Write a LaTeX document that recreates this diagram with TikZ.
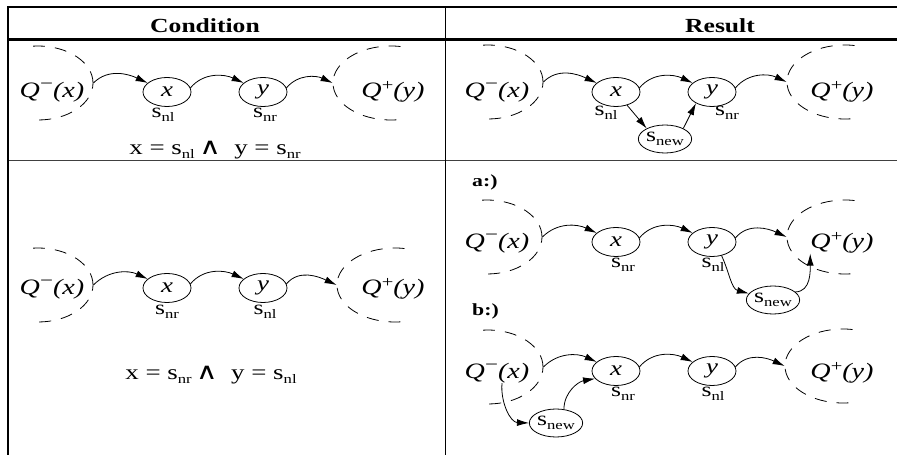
\documentclass[tikz,border=0pt]{standalone}
\usepackage{fontspec}
\setmainfont{Liberation Serif}
\newfontfamily\symf{DejaVu Sans}
\usepackage{graphicx}
\usetikzlibrary{shapes.geometric,arrows.meta}
\newcommand\sx[1]{\scalebox{1.28}[1]{#1}}
\newcommand\Qmin[1]{\sx{\fontsize{22}{24}\selectfont\textit{Q}\raisebox{8pt}{\fontsize{18}{18}\selectfont −}\textit{(#1)}}}
\newcommand\Qplus[1]{\sx{\fontsize{22}{24}\selectfont\textit{Q}\raisebox{7pt}{\fontsize{16}{16}\selectfont +}\textit{(#1)}}}
\newcommand\Ssub[1]{\sx{\fontsize{20}{22}\selectfont s\raisebox{-4pt}{\fontsize{13}{13}\selectfont #1}}}
\newcommand\Var[1]{\sx{\fontsize{21}{24}\selectfont\textit{#1}}}
\newcommand\Formula[2]{\sx{\fontsize{21}{22}\selectfont x = s\raisebox{-4pt}{\fontsize{13}{13}\selectfont #1}\,{\symf\fontsize{23}{23}\selectfont ∧}\ \ y = s\raisebox{-4pt}{\fontsize{13}{13}\selectfont #2}}}
\begin{document}
\begin{tikzpicture}[x=1pt,y=1pt,
  gnode/.style={draw, ellipse, line width=0.8pt, minimum width=48pt, minimum height=29pt, inner sep=0pt},
  newnode/.style={draw, ellipse, line width=0.8pt, minimum width=51pt, minimum height=28pt, inner sep=0pt},
  qreg/.style={draw, ellipse, line width=0.8pt, dash pattern=on 12pt off 10pt, minimum width=110pt, minimum height=74pt, inner sep=0pt},
  qregp/.style={qreg, minimum width=116pt},
  txt/.style={inner sep=0pt},
  arr/.style={line width=0.8pt, -{Latex[length=12pt,width=7pt]}},
  hdr/.style={inner sep=0pt, font=\fontsize{20}{24}\selectfont\bfseries},
  lbl/.style={inner sep=0pt, anchor=west, font=\fontsize{17}{20}\selectfont\bfseries}]
\useasboundingbox (0,0) rectangle (897,455);

% table lines
\draw[line width=1.2pt] (8,448) -- (897,448);
\draw[line width=3pt] (8,415.5) -- (897,415.5);
\draw[line width=0.8pt, black!75] (8,294.5) -- (897,294.5);
\draw[line width=1.5pt] (8,448.6) -- (8,0);
\draw[line width=1pt] (445,448) -- (445,0);

\node[hdr] (h1) at (205,429) {\sx{Condition}};
\node[hdr] (h2) at (720,429) {\sx{Result}};

% ---------- Row 1, condition ----------
\begin{scope}\clip (33,320) rectangle (120,420); \node[qreg] (qmA) at (38,372) {}; \end{scope}
\begin{scope}\clip (300,320) rectangle (406,420); \node[qregp] (qpA) at (391,372) {}; \end{scope}
\node[txt] (qmtA) at (52,363) {\Qmin{x}};
\node[txt] (qptA) at (393,363) {\Qplus{y}};
\node[gnode] (xA) at (167,363) {\Var{x}};
\node[gnode] (yA) at (263,363) {\Var{y}};
\node[txt] (lA1) at (163,340) {\Ssub{nl}};
\node[txt] (lA2) at (265,340) {\Ssub{nr}};
\node[txt] (fA) at (215,305) {\Formula{nl}{nr}};
\draw[arr] (qmA.east) to[out=45,in=155] (xA);
\draw[arr] (xA.10) to[out=50,in=155] (yA);
\draw[arr] (yA.10) to[out=50,in=155] (qpA.west);

% ---------- Row 1, result ----------
\begin{scope}\clip (483,320) rectangle (570,420); \node[qreg] (qmB) at (488,373) {}; \end{scope}
\begin{scope}\clip (760,320) rectangle (860,420); \node[qregp] (qpB) at (845,373) {}; \end{scope}
\node[txt] (qmtB) at (497,363) {\Qmin{x}};
\node[txt] (qptB) at (842,363) {\Qplus{y}};
\node[gnode] (xB) at (616,363) {\Var{x}};
\node[gnode] (yB) at (712,363) {\Var{y}};
\node[newnode] (snB) at (665,316) {\Ssub{new}};
\node[txt] (lB1) at (606,342) {\Ssub{nl}};
\node[txt] (lB2) at (727,342) {\Ssub{nr}};
\draw[arr] (qmB.east) to[out=45,in=155] (xB);
\draw[arr] (xB.10) to[out=50,in=155] (yB);
\draw[arr] (yB.10) to[out=50,in=155] (qpB.west);
\draw[arr] (xB.-50) -- (snB.150);
\draw[arr] (snB.30) -- (yB.215);

% ---------- Row 2, condition ----------
\begin{scope}\clip (33,120) rectangle (120,220); \node[qreg] (qmC) at (38,170) {}; \end{scope}
\begin{scope}\clip (300,120) rectangle (410,220); \node[qregp] (qpC) at (395,170) {}; \end{scope}
\node[txt] (qmtC) at (52,166) {\Qmin{x}};
\node[txt] (qptC) at (393,166) {\Qplus{y}};
\node[gnode] (xC) at (167,167) {\Var{x}};
\node[gnode] (yC) at (263,167) {\Var{y}};
\node[txt] (lC1) at (167,143) {\Ssub{nr}};
\node[txt] (lC2) at (265,143) {\Ssub{nl}};
\node[txt] (fC) at (211,80) {\Formula{nr}{nl}};
\draw[arr] (qmC.east) to[out=45,in=155] (xC);
\draw[arr] (xC.10) to[out=50,in=155] (yC);
\draw[arr] (yC.10) to[out=50,in=155] (qpC.west);

% ---------- Row 2, result a ----------
\node[lbl] (la) at (472,273) {\sx{a:)}};
\begin{scope}\clip (482,170) rectangle (570,265); \node[qreg] (qmD) at (487,218) {}; \end{scope}
\begin{scope}\clip (760,170) rectangle (860,265); \node[qregp] (qpD) at (845,218) {}; \end{scope}
\node[txt] (qmtD) at (497,212) {\Qmin{x}};
\node[txt] (qptD) at (842,212) {\Qplus{y}};
\node[gnode] (xD) at (616,213) {\Var{x}};
\node[gnode] (yD) at (712,213) {\Var{y}};
\node[newnode] (snD) at (773,155) {\Ssub{new}};
\node[txt] (lD1) at (623,190) {\Ssub{nr}};
\node[txt] (lD2) at (713,190) {\Ssub{nl}};
\draw[arr] (qmD.east) to[out=45,in=155] (xD);
\draw[arr] (xD.10) to[out=50,in=155] (yD);
\draw[arr] (yD.10) to[out=50,in=155] (qpD.west);
\draw[arr] (yD.-55) to[out=-65,in=165] (snD.165);
\draw[arr] (snD.20) to[out=0,in=-90] (qptD.south west);

% ---------- Row 2, result b ----------
\node[lbl] (lb) at (472,144) {\sx{b:)}};
\begin{scope}\clip (483,40) rectangle (570,135); \node[qreg] (qmE) at (488,88) {}; \end{scope}
\begin{scope}\clip (760,40) rectangle (858,135); \node[qregp] (qpE) at (843,89) {}; \end{scope}
\node[txt] (qmtE) at (497,82) {\Qmin{x}};
\node[txt] (qptE) at (842,82) {\Qplus{y}};
\node[gnode] (xE) at (616,84) {\Var{x}};
\node[gnode] (yE) at (712,84) {\Var{y}};
\node[newnode] (snE) at (556,32) {\Ssub{new}};
\node[txt] (lE1) at (623,61) {\Ssub{nr}};
\node[txt] (lE2) at (713,61) {\Ssub{nl}};
\draw[arr] (qmE.east) to[out=45,in=155] (xE);
\draw[arr] (xE.10) to[out=50,in=155] (yE);
\draw[arr] (yE.10) to[out=50,in=155] (qpE.west);
\draw[arr] ([xshift=5pt]qmtE.south) to[out=-95,in=178] (snE.west);
\draw[arr] (snE.60) to[out=90,in=190] (xE.200);
\end{tikzpicture}
\end{document}
